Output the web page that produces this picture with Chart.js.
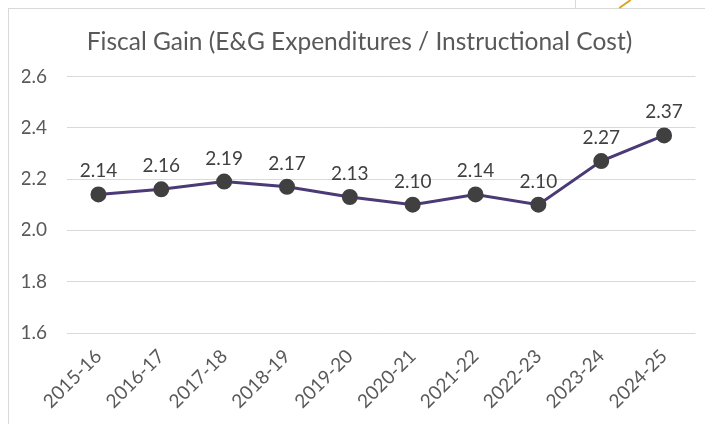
<!DOCTYPE html>
<html>
<head>
<meta charset="utf-8">
<script src="https://cdn.jsdelivr.net/npm/chart.js@4"></script>
<style>
  html, body { margin: 0; padding: 0; background: #fff; }
  #wrap { position: relative; width: 705px; height: 424px; overflow: hidden; }
  #frame { position: absolute; left: 8px; top: 8px; width: 800px; height: 500px; border: 1px solid #d9d9d9; }
  #deco1 { position: absolute; left: 575px; top: 0; width: 1px; height: 8px; background: #d9d9d9; }
  #deco2 { position: absolute; left: 624px; top: -3px; width: 2px; height: 14px; background: #d9a520; transform: rotate(55deg); }
  canvas { position: absolute; left: 0; top: 0; }
</style>
</head>
<body>
<div id="wrap">
  <div id="frame"></div>
  <div id="deco1"></div>
  <div id="deco2"></div>
  <canvas id="fiscalChart" width="705" height="424"></canvas>
</div>
<script>
const years = ['2015-16', '2016-17', '2017-18', '2018-19', '2019-20', '2020-21', '2021-22', '2022-23', '2023-24', '2024-25'];
const fiscalGain = [2.14, 2.16, 2.19, 2.17, 2.13, 2.10, 2.14, 2.10, 2.27, 2.37];
const yTicks = [1.6, 1.8, 2.0, 2.2, 2.4, 2.6];

const fontFamily = 'Lato, "Open Sans", sans-serif';

// draws the value above each point
const valueLabels = {
    id: 'valueLabels',
    afterDatasetsDraw(chart) {
        const ctx = chart.ctx;
        const meta = chart.getDatasetMeta(0);
        ctx.save();
        ctx.fillStyle = '#404040';
        ctx.font = '19px ' + fontFamily;
        ctx.textAlign = 'center';
        ctx.textBaseline = 'alphabetic';
        meta.data.forEach((pt, i) => {
            ctx.fillText(fiscalGain[i].toFixed(2), pt.x, pt.y - 17);
        });
        ctx.restore();
    }
};

const ctx = document.getElementById('fiscalChart').getContext('2d');
const chart = new Chart(ctx, {
    type: 'line',
    data: {
        labels: years,
        datasets: [{
            label: 'Fiscal Gain',
            data: fiscalGain,
            borderColor: '#4b3a75',
            borderWidth: 3,
            pointBackgroundColor: '#404040',
            pointBorderColor: '#404040',
            pointRadius: 6.5,
            tension: 0
        }]
    },
    options: {
        responsive: false,
        animation: false,
        layout: { padding: { top: 0, left: 22, right: 8, bottom: 0 } },
        plugins: {
            legend: { display: false },
            tooltip: { enabled: false },
            title: {
                display: true,
                text: 'Fiscal Gain (E&G Expenditures / Instructional Cost)',
                color: '#595959',
                font: { family: fontFamily, size: 24.5, weight: 'normal' },
                padding: { top: 27, bottom: 20 }
            }
        },
        scales: {
            x: {
                offset: true,
                grid: { display: false },
                border: { display: false },
                ticks: {
                    color: '#595959',
                    font: { family: fontFamily, size: 19 },
                    maxRotation: 45,
                    minRotation: 45,
                    padding: 4
                },
                afterFit(scale) { scale.height = 91; }
            },
            y: {
                min: 1.6,
                max: 2.6,
                afterBuildTicks(scale) { scale.ticks = yTicks.map(v => ({ value: v })); },
                grid: { color: '#d9d9d9', drawTicks: false },
                border: { display: false },
                ticks: {
                    color: '#595959',
                    font: { family: fontFamily, size: 19 },
                    padding: 20,
                    callback: v => v.toFixed(1)
                },
                afterFit(scale) { scale.width = 45; }
            }
        }
    },
    plugins: [valueLabels]
});
</script>
</body>
</html>
